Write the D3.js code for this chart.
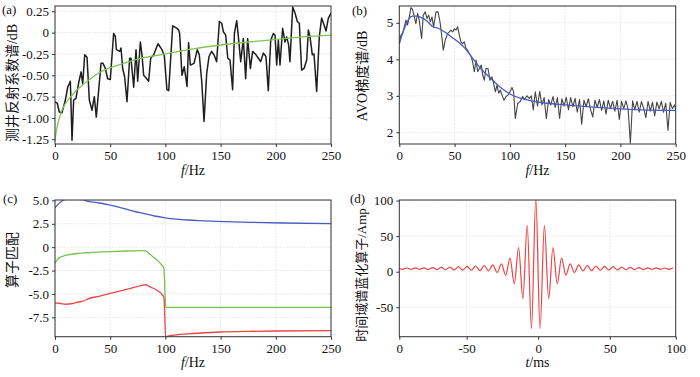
<!DOCTYPE html>
<html><head><meta charset="utf-8">
<script src="https://cdn.jsdelivr.net/npm/d3@7"></script>
<style>
body{margin:0;background:#fff}
svg text{font-family:"Liberation Serif","Times New Roman","Noto Sans CJK SC",serif;fill:#111}
</style></head>
<body><svg id="c" width="700" height="377"></svg>
<script>
// ---------- DATA ----------
// (a) well-log reflectivity spectrum (noisy) and its smooth fit
const freqA = [0,2.1,3.9,6.3,9.4,11.5,13.9,15.4,16.9,19.0,21.4,23.6,25.1,26.9,29.0,31.1,33.5,35.6,37.4,39.6,41.7,43.5,45.6,47.7,50.1,53.1,54.6,55.6,58.6,59.8,61.3,63.1,65.2,67.6,68.8,71.3,73.4,74.9,77.3,78.8,80.3,81.8,84.8,86.7,89.4,93.3,96.9,99.0,101.4,103.0,106.6,110.5,112,112.9,115,117.1,119.6,121,122.6,125.9,128.9,130.7,132.9,135,137.4,139.5,141.9,144,146.4,148.9,151,152.5,154.6,156.5,158.5,160.9,162.5,164.6,166.1,168.2,170.6,172.7,174.5,177,179,182.1,184.2,186.3,188.7,191.1,193.2,195.4,197.8,199.3,200.8,202.3,203.8,206.2,208.3,209.8,211.6,212.8,215.3,217.4,219.5,221.3,223.4,225.6,228,229.5,231,233.1,234.6,237,239.4,241.5,243.7,245.5,247.6,250];
const valA = [-0.81,-0.83,-0.93,-0.94,-0.79,-0.64,-0.57,-1.26,-0.79,-0.77,-0.59,-0.46,-0.60,-0.26,-0.29,-0.79,-0.91,-0.75,-0.99,-0.67,-0.36,-0.36,-0.42,-0.54,-0.55,-0.01,-0.04,-0.20,-0.22,-0.18,-0.42,-0.52,-0.81,-0.30,-0.30,-0.64,-0.20,-0.57,-0.11,-0.26,-0.50,-0.52,-0.57,-0.30,-0.26,-0.13,-0.20,-0.27,-0.67,-0.68,0.08,0.05,0.03,-0.01,-0.50,-0.40,-0.63,-0.12,-0.38,-0.36,-0.20,-0.26,-0.57,-1.04,-0.48,-0.28,-0.22,-0.26,-0.34,0.13,0.11,0.01,-0.03,-0.30,-0.32,-0.67,-0.01,0.14,-0.05,-0.34,-0.07,-0.54,-0.07,-0.42,-0.22,-0.26,-0.30,-0.34,-0.24,-0.28,-0.68,-0.09,-0.01,-0.03,-0.38,-0.09,-0.38,0.05,-0.11,-0.05,-0.14,-0.34,0.30,0.23,0.13,0.11,-0.44,-0.42,-0.32,0.03,-0.05,-0.26,-0.25,-0.69,-0.05,0.17,0.09,0.02,0.17,0.23];
const freqAFit = [0,1,2,4,6,10,15,20,30,40,50,60,75,100,125,150,175,200,225,250];
const valAFit  = [-1.27,-1.17,-1.10,-1.00,-0.92,-0.82,-0.74,-0.67,-0.56,-0.47,-0.41,-0.37,-0.31,-0.25,-0.19,-0.145,-0.11,-0.08,-0.05,-0.03];

// (b) AVO gradient spectrum (noisy) and its smooth fit
const freqB = [0,1.5,3,4.5,6,7.5,9,10.6,12,13.6,15,16.6,18,20.2,21.7,23.5,25,26.5,28,29.6,31,33.2,35,36.8,38.3,39.8,41.6,43.7,45.2,46.7,48.3,49.8,51.3,52.8,54.3,55.8,57.3,58.8,60.3,61.8,63.3,65.1,66.3,67.9,69.4,70.9,72.4,74.2,75.4,76.9,78.4,80.2,82,83.8,85.3,86.9,88.4,89.9,91.4,92.9,94.7,96.5,98.3,100.1,101.9,103.4,104.9,107.1,109.2,111.6,113.4,115.5,117.6,119.4,121.2,123,125,127,129,131,133,135,137,139,141,143,145,147,149,151,153,155,157,159,161,163,165,167,169,171,173,175,177,179,181,183,185,187,189,191,193,195,197,199,201,203,205,207,209,211,213,215,217,219,221,223,225,227,229,231,233,235,237,239,241,243,245,247,249,250];
const valB = [4.43,4.66,4.71,4.89,5.07,4.94,5.16,5.42,5.36,5.16,4.98,5.26,5.07,4.57,5.21,5.30,5.12,5.21,5.03,5.16,4.89,5.30,5.30,5.03,4.66,4.25,4.53,4.71,4.75,4.80,4.75,4.84,4.80,4.89,4.66,4.48,4.43,4.48,4.30,4.25,4.16,4.07,3.93,3.66,3.98,3.66,3.75,3.84,3.57,3.43,3.75,3.75,3.43,3.52,3.34,3.11,3.29,3.07,3.16,3.02,2.88,2.98,3.02,3.11,3.23,3.11,2.38,2.79,2.84,2.98,2.90,3.00,2.93,3.00,2.61,3.11,2.72,3.12,2.75,2.95,2.37,2.90,2.75,2.98,2.68,2.95,2.38,2.92,2.72,2.96,2.62,2.95,2.70,2.93,2.55,2.90,2.22,2.88,2.70,2.92,2.62,2.42,2.88,2.68,2.90,2.60,2.86,2.50,2.88,2.66,2.85,2.58,2.88,2.35,2.85,2.65,2.86,2.62,1.70,2.86,2.62,2.85,2.55,2.84,2.66,2.40,2.85,2.58,2.82,2.45,2.83,2.64,2.85,2.55,2.80,2.05,2.82,2.65,2.75,2.62];
const freqBFit = [0,3,6,9,12,16,20,25,30,35,40,46,50,55,60,67,75,82,90,95,100,110,120,130,150,175,200,225,250];
const valBFit  = [4.42,4.72,4.95,5.12,5.18,5.18,5.14,5.05,4.90,4.85,4.77,4.64,4.55,4.43,4.28,4.00,3.70,3.50,3.27,3.15,3.05,2.93,2.86,2.81,2.75,2.69,2.64,2.61,2.60];

// (c) operator matching curves
const freqC1 = [0,3,6,9,12,20,25,30,40,50,60,70,80,90,100,110,120,130,146,177,207,250];
const valC1  = [4.22,4.60,4.90,5.10,5.17,5.13,5.07,4.90,4.72,4.50,4.20,3.88,3.60,3.33,3.14,3.00,2.90,2.83,2.76,2.65,2.58,2.51];
const freqC2 = [0,2,4,7.5,12,20,30,50,65,79,82,86,90,94,96.6,98.7,99.5,100.3,110,250];
const valC2  = [-1.73,-1.35,-1.12,-0.95,-0.82,-0.68,-0.60,-0.48,-0.41,-0.36,-0.40,-0.75,-1.15,-1.55,-1.91,-2.30,-4.50,-6.43,-6.43,-6.43];
const freqC3 = [0,5,10,15,20,28,30,40,50,60,70,80,82,86,90,94,97,98.7,99.5,100.2,101,110,120,135,150,175,200,250];
const valC3  = [-5.95,-6.02,-6.10,-6.05,-5.90,-5.65,-5.52,-5.25,-4.95,-4.65,-4.35,-4.05,-4.02,-4.25,-4.45,-4.75,-5.05,-5.40,-7.50,-9.60,-9.55,-9.38,-9.28,-9.15,-9.07,-9.00,-8.96,-8.92];

// (d) time-domain blueing operator (extrema of the wavelet)
const timeD = [-97.7,-94.7,-91.7,-88.7,-85.7,-82.7,-79.7,-76.7,-73.7,-70.7,-67.7,-64.7,-61.7,-58.7,-55.7,-52.7,-49.7,-46.7,-43.7,-40.7,-37.7,-34.7,-31.7,-28.7,-25.7,-22.7,-19.7,-16.7,-13.7,-10.7,-7.7,-4.7,-1.7,1.3,4.3,7.3,10.3,13.3,16.3,19.3,22.3,25.3,28.3,31.3,34.3,37.3,40.3,43.3,46.3,49.3,52.3,55.3,58.3,61.3,64.3,67.3,70.3,73.3,76.3,79.3,82.3,85.3,88.3,91.3,94.3];
const ampD  = [5.1,3.4,5.2,3.3,5.3,3.2,5.5,3.0,5.8,3.0,6.0,2.7,6.5,2.5,7.0,2.2,7.5,2.0,8.0,1.5,8.5,1.0,9.5,-1.0,11.0,-5.0,19.0,-17.0,34.0,-38.0,65.0,-80.0,103.0,-80.0,65.0,-38.0,34.0,-17.0,19.0,-5.0,11.0,-1.0,9.5,1.0,8.5,1.5,8.0,2.0,7.5,2.2,7.0,2.5,6.5,2.7,6.0,3.0,5.8,3.0,5.5,3.2,5.3,3.3,5.2,3.4,5.1];

// ticks
const xTicksF = [0,50,100,150,200,250];
const yTicksA = [0.25,0,-0.25,-0.5,-0.75,-1.0,-1.25];
const yLabelsA = ["0.25","0","-0.25","-0.50","-0.75","-1.00","-1.25"];
const yTicksB = [5,4,3,2];
const yTicksC = [5,2.5,0,-2.5,-5,-7.5];
const yLabelsC = ["5.0","2.5","0","-2.5","-5.0","-7.5"];
const yTicksD = [100,50,0,-50];
const xTicksD = [-97,-50,0,50,96];
const xLabelsD = ["0","-50","0","50","100"];

// ---------- DRAW ----------
const svg = d3.select("#c");
const defs = svg.append("defs");
const FONT = '"Liberation Serif","Times New Roman","Noto Sans CJK SC",serif';

function panel(o){
  const g = svg.append("g");
  const x = d3.scaleLinear().domain(o.xd).range([o.L,o.R]);
  const y = d3.scaleLinear().domain(o.yd).range([o.B,o.T]);
  // grid
  g.selectAll(null).data(o.xgrid).join("line")
    .attr("x1",d=>x(d)).attr("x2",d=>x(d)).attr("y1",o.T).attr("y2",o.B)
    .attr("stroke","#e6e6e6").attr("stroke-width",0.8).attr("stroke-dasharray","2,1");
  g.selectAll(null).data(o.ygrid).join("line")
    .attr("y1",d=>y(d)).attr("y2",d=>y(d)).attr("x1",o.L).attr("x2",o.R)
    .attr("stroke","#e6e6e6").attr("stroke-width",0.8).attr("stroke-dasharray","2,1");
  const cid = "clip"+o.id;
  defs.append("clipPath").attr("id",cid).append("rect")
    .attr("x",o.L).attr("y",o.T).attr("width",o.R-o.L).attr("height",o.B-o.T);
  const lg = g.append("g").attr("clip-path",`url(#${cid})`);
  o.series.forEach(s=>{
    const line = d3.line().x((d,i)=>x(s.xs[i])).y((d,i)=>y(s.ys[i])).curve(s.curve||d3.curveLinear);
    lg.append("path").datum(s.ys).attr("d",line).attr("fill","none")
      .attr("stroke",s.color).attr("stroke-width",s.w||1.2).attr("stroke-linejoin","round");
  });
  // axes
  const ax = d3.axisBottom(x).tickValues(o.xticks).tickFormat((d,i)=>o.xlabels?o.xlabels[i]:String(d)).tickSize(3).tickPadding(4).tickSizeOuter(0);
  const axg = g.append("g").attr("transform",`translate(0,${o.B})`).call(ax);
  const ay = d3.axisLeft(y).tickValues(o.yticks).tickFormat((d,i)=>o.ylabels?o.ylabels[i]:String(d)).tickSize(3).tickPadding(3).tickSizeOuter(0);
  const ayg = g.append("g").attr("transform",`translate(${o.L},0)`).call(ay);
  [axg,ayg].forEach(a=>{
    a.attr("font-family",FONT).attr("font-size",13);
    a.select(".domain").remove();
    a.selectAll("line").attr("stroke","#333");
    a.selectAll("text").attr("fill","#111");
  });
  // frame
  g.append("rect").attr("x",o.L).attr("y",o.T).attr("width",o.R-o.L).attr("height",o.B-o.T)
    .attr("fill","none").attr("stroke","#333").attr("stroke-width",1);
  // panel label
  g.append("text").attr("x",o.lx).attr("y",o.ly).attr("font-size",13).text(o.label);
  // x title
  const xt = g.append("text").attr("x",(o.L+o.R)/2).attr("y",o.B+30.5).attr("text-anchor","middle").attr("font-size",14);
  xt.append("tspan").attr("font-style","italic").text(o.xvar);
  xt.append("tspan").text(o.xunit);
  // y title
  g.append("text").attr("transform",`translate(${o.ytx},${o.tyc}) rotate(-90)`)
    .attr("text-anchor","middle").attr("font-size",o.yfs||14).text(o.ytitle);
}

const mono = d3.curveMonotoneX;
panel({id:"a",L:55,R:331,T:6,B:144,xd:[0,250],yd:[-1.305,0.312],
  xticks:xTicksF,yticks:yTicksA,ylabels:yLabelsA,xgrid:xTicksF,ygrid:yTicksA,
  label:"(a)",lx:2,ly:14,xvar:"f",xunit:"/Hz",ytitle:"测井反射系数谱/dB",ytx:17,tyc:83,
  series:[{xs:freqA,ys:valA,color:"#1e1e1e",w:1.5},{xs:freqAFit,ys:valAFit,color:"#7cc653",w:1.3,curve:mono}]});
panel({id:"b",L:399.3,R:675.7,T:6,B:144,xd:[0,250],yd:[1.68,5.46],
  xticks:xTicksF,yticks:yTicksB,xgrid:xTicksF,ygrid:yTicksB,
  label:"(b)",lx:352,ly:15,xvar:"f",xunit:"/Hz",ytitle:"AVO梯度谱/dB",ytx:367,tyc:76,
  series:[{xs:freqB,ys:valB,color:"#444",w:1.1},{xs:freqBFit,ys:valBFit,color:"#4a5cc4",w:1.3,curve:mono}]});
panel({id:"c",L:55,R:331,T:200,B:336.7,xd:[0,250],yd:[-9.57,5.04],
  xticks:xTicksF,yticks:yTicksC,ylabels:yLabelsC,xgrid:xTicksF,ygrid:yTicksC,
  label:"(c)",lx:3,ly:203,xvar:"f",xunit:"/Hz",ytitle:"算子匹配",ytx:17,tyc:260,
  series:[{xs:freqC1,ys:valC1,color:"#4a5cc4",w:1.3,curve:mono},
          {xs:freqC2,ys:valC2,color:"#78c050",w:1.3,curve:mono},
          {xs:freqC3,ys:valC3,color:"#ee4444",w:1.3,curve:mono}]});
panel({id:"d",L:399.3,R:675.7,T:200,B:336.7,xd:[-97,96],yd:[-91.4,100.8],
  xticks:xTicksD,xlabels:xLabelsD,yticks:yTicksD,xgrid:[-50,0,50],ygrid:yTicksD,
  label:"(d)",lx:350,ly:203,xvar:"t",xunit:"/ms",ytitle:"时间域谱蓝化算子/Amp",ytx:366,tyc:275,yfs:13,
  series:[{xs:timeD,ys:ampD,color:"#ee4444",w:1.2,curve:mono}]});
</script></body></html>
